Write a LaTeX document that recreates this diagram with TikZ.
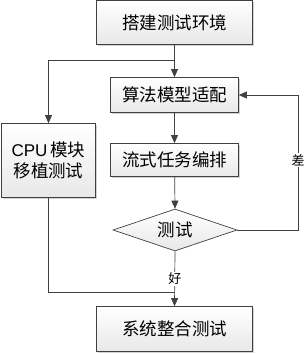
\documentclass[tikz,border=0pt]{standalone}
\usepackage{fontspec}
\setmainfont{Liberation Sans}
\newfontfamily\cjk{Noto Sans CJK SC}
\usetikzlibrary{arrows.meta,shapes.geometric,shadows}

\definecolor{linegray}{HTML}{404040}
\tikzset{
  krok/.style={draw=linegray, line width=0.7pt, top color=white, bottom color=gray!18,
    drop shadow={shadow xshift=1.6pt, shadow yshift=-1.6pt, opacity=0.35},
    inner sep=0pt, font=\cjk\fontsize{17.5}{21}\selectfont, align=center},
  rozhod/.style={diamond, draw=linegray, line width=0.7pt, top color=white, bottom color=gray!18,
    inner sep=0pt, aspect=3, minimum width=124pt, minimum height=42pt,
    font=\cjk\fontsize{17.5}{21}\selectfont},
  sipka/.style={draw=linegray, line width=0.7pt, -{Triangle[width=7pt,length=8pt]}},
  cara/.style={draw=linegray, line width=0.7pt},
  popis/.style={fill=white, inner sep=1pt, font=\cjk\fontsize{13}{15}\selectfont}
}

\begin{document}
\begin{tikzpicture}[x=1pt,y=-1pt]
        \useasboundingbox (0,0) rectangle (307,354);

        % bloky
        \node[krok, minimum width=156pt, minimum height=44pt] (env) at (174.5,22.5) {搭建测试环境};
        \node[krok, minimum width=128pt, minimum height=35pt] (alg) at (174.5,95) {算法模型适配};
        \node[krok, minimum width=128pt, minimum height=33pt] (flow) at (174.5,160) {流式任务编排};
        \node[krok, minimum width=94pt, minimum height=74pt] (cpu) at (48.5,160.5)
          {{\rmfamily\fontsize{17}{20}\selectfont CPU}\,模块\\移植测试};
        \node[rozhod] (test) at (175,230) {测试};
        \node[krok, minimum width=156pt, minimum height=45pt] (sys) at (174.5,329) {系统整合测试};

        % pomocné body
        \coordinate (split) at (175,60);
        \coordinate (join) at (175,292);
        \coordinate (back) at (298,230);

        % spojnice
        \draw[sipka] (env.south) -- (alg.north);
        \draw[sipka] (split) -| (cpu.north);
        \draw[sipka] (alg) -- (flow);
        \draw[sipka] (flow) -- (test.north);
        \draw[sipka] (test.south) -- node[popis, pos=0.5] {好} (sys.north);
        \draw[cara] (cpu.south) |- (join);
        \draw[sipka] (test.east) -- (back) -- node[popis, pos=0.52] {差} (back |- alg.east) -- (alg.east);
    \end{tikzpicture}
\end{document}
